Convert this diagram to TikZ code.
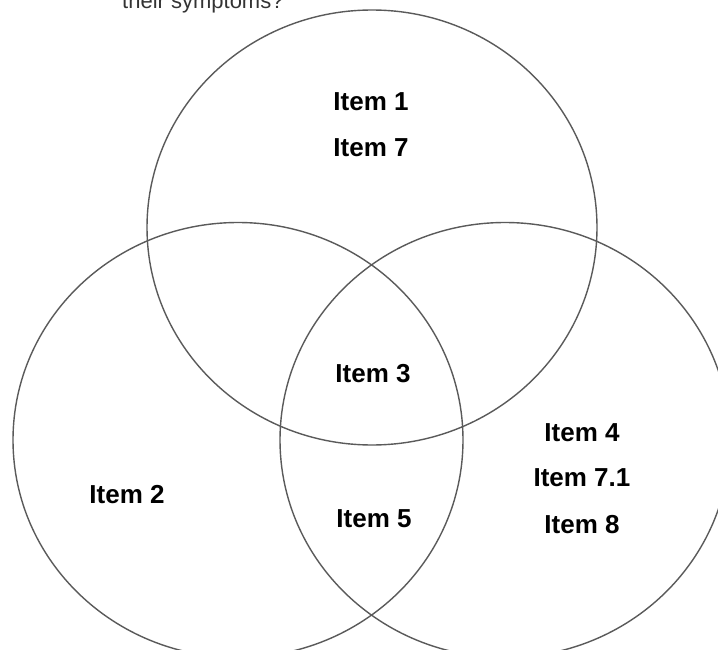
\documentclass[tikz,border=0pt]{standalone}
\usepackage{fontspec}
\setmainfont{Liberation Sans}
\definecolor{ringgray}{HTML}{5A5A5A}
\definecolor{captiongray}{HTML}{333333}
\begin{document}
\begin{tikzpicture}[x=1pt,y=-1pt,
  ring/.style={draw=ringgray,line width=1.4pt},
  itemlabel/.style={font=\fontsize{26}{30}\selectfont\bfseries,inner sep=0pt,text=black},
  captiontext/.style={font=\fontsize{22}{26}\selectfont,inner sep=0pt,text=captiongray,anchor=base west}]
\useasboundingbox (0,0) rectangle (718,650);
\clip (0,0) rectangle (718,650);
\fill[white] (0,0) rectangle (718,650);
\node[captiontext] (cap) at (122,9) {their symptoms?};
\draw[ring] (372,227.5) ellipse [x radius=225, y radius=217.5];
\draw[ring] (238,440) ellipse [x radius=225, y radius=217.5];
\draw[ring] (505,440) ellipse [x radius=225, y radius=217.5];
\node[itemlabel] (i1) at (371,102) {Item 1};
\node[itemlabel] (i7) at (371,148) {Item 7};
\node[itemlabel] (i3) at (373,374) {Item 3};
\node[itemlabel] (i2) at (127,495) {Item 2};
\node[itemlabel] (i5) at (374,519) {Item 5};
\node[itemlabel] (i4) at (582,433) {Item 4};
\node[itemlabel] (i71) at (582,478) {Item 7.1};
\node[itemlabel] (i8) at (582,525) {Item 8};
\end{tikzpicture}
\end{document}
